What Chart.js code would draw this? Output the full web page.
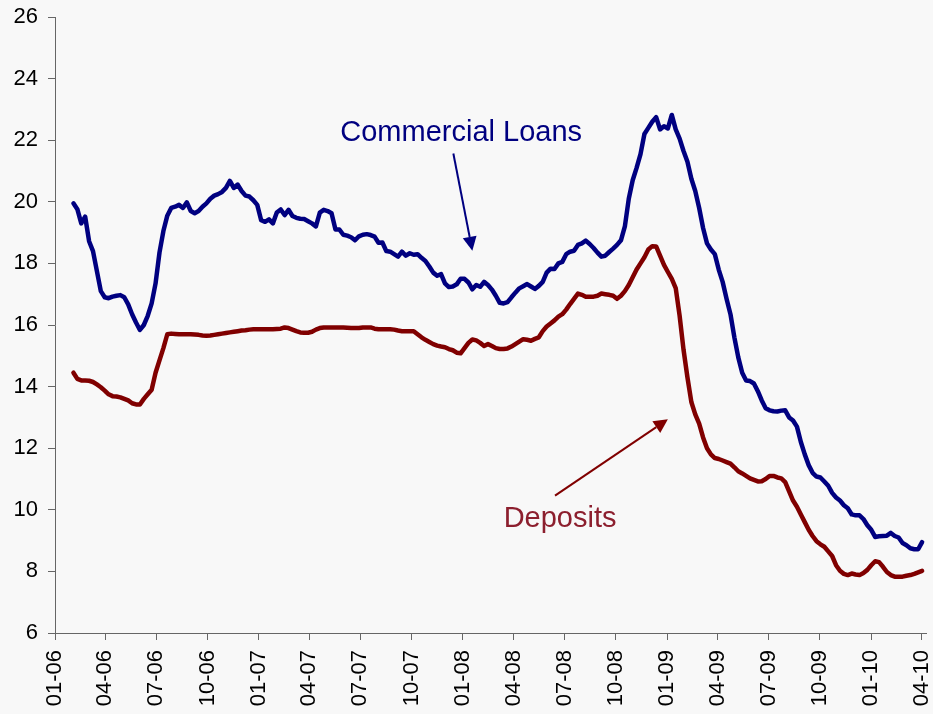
<!DOCTYPE html>
<html>
<head>
<meta charset="utf-8">
<script src="https://cdn.jsdelivr.net/npm/chart.js@4.4.1/dist/chart.umd.min.js"></script>
<style>
  html, body { margin: 0; padding: 0; background: #f8f8f8; }
  #wrap { width: 933px; height: 714px; }
</style>
</head>
<body>
<div id="wrap"><canvas id="c" width="933" height="714"></canvas></div>
<script>
// ---- data (weekly observations, first week below) ----
const firstWeek = '2006-02-03';
const seriesNames = ['Commercial Loans', 'Deposits'];

const loans = [
  19.95, 19.76, 19.3, 19.52, 18.72, 18.4, 17.75, 17.1, 16.9, 16.87,
  16.92, 16.95, 16.97, 16.9, 16.67, 16.35, 16.08, 15.84, 16.0, 16.3,
  16.7, 17.35, 18.35, 19.05, 19.55, 19.8, 19.84, 19.9, 19.8, 19.98,
  19.7, 19.63, 19.7, 19.84, 19.95, 20.1, 20.2, 20.25, 20.32, 20.45,
  20.68, 20.45, 20.56, 20.35, 20.2, 20.17, 20.05, 19.9, 19.4, 19.35,
  19.43, 19.3, 19.65, 19.75, 19.57, 19.74, 19.54, 19.48, 19.45, 19.44,
  19.37, 19.3, 19.2, 19.65, 19.74, 19.7, 19.63, 19.1, 19.1, 18.93,
  18.9, 18.85, 18.75, 18.88, 18.93, 18.95, 18.92, 18.87, 18.67, 18.68,
  18.4, 18.38, 18.3, 18.22, 18.38, 18.25, 18.33, 18.28, 18.3, 18.18,
  18.08, 17.9, 17.7, 17.6, 17.65, 17.35, 17.23, 17.25, 17.32, 17.5,
  17.5, 17.38, 17.16, 17.3, 17.24, 17.4, 17.3, 17.15, 16.95, 16.72,
  16.7, 16.74, 16.9, 17.05, 17.19, 17.26, 17.33, 17.25, 17.17, 17.27,
  17.4, 17.7, 17.83, 17.82, 18.0, 18.05, 18.3, 18.38, 18.41, 18.6,
  18.65, 18.74, 18.63, 18.5, 18.35, 18.22, 18.25, 18.37, 18.48, 18.6,
  18.75, 19.2, 20.1, 20.7, 21.1, 21.55, 22.2, 22.4, 22.6, 22.75,
  22.35, 22.45, 22.38, 22.82, 22.35, 22.05, 21.65, 21.3, 20.75, 20.35,
  19.8, 19.15, 18.65, 18.45, 18.3, 17.8, 17.4, 16.85, 16.35, 15.6,
  14.95, 14.45, 14.2, 14.18, 14.1, 13.85, 13.55, 13.3, 13.23, 13.2,
  13.19, 13.22, 13.23, 13.0, 12.9, 12.7, 12.2, 11.8, 11.45, 11.2,
  11.08, 11.05, 10.92, 10.78, 10.55, 10.4, 10.3, 10.15, 10.05, 9.85,
  9.82, 9.82, 9.7, 9.5, 9.35, 9.12, 9.14, 9.15, 9.16, 9.25,
  9.15, 9.1, 8.92, 8.85, 8.75, 8.72, 8.72, 8.95
];

const deposits = [
  14.45, 14.25, 14.2, 14.2, 14.19, 14.15, 14.07, 13.98, 13.87, 13.75,
  13.69, 13.68, 13.65, 13.6, 13.55, 13.46, 13.42, 13.42, 13.6, 13.75,
  13.9, 14.45, 14.85, 15.25, 15.7, 15.72, 15.71, 15.7, 15.7, 15.7,
  15.7, 15.69, 15.68, 15.66, 15.65, 15.66, 15.68, 15.7, 15.72, 15.74,
  15.76, 15.78, 15.8, 15.82, 15.83, 15.85, 15.86, 15.86, 15.86, 15.86,
  15.86, 15.86, 15.87, 15.88, 15.92, 15.9, 15.85, 15.8, 15.76, 15.75,
  15.75, 15.78, 15.85, 15.9, 15.92, 15.92, 15.92, 15.92, 15.92, 15.92,
  15.91, 15.9, 15.9, 15.9, 15.92, 15.92, 15.92, 15.88, 15.86, 15.86,
  15.86, 15.86, 15.85, 15.82, 15.8, 15.8, 15.8, 15.8, 15.7, 15.6,
  15.52, 15.45, 15.38, 15.33, 15.3, 15.28, 15.22, 15.18, 15.1, 15.08,
  15.25, 15.42, 15.53, 15.5, 15.42, 15.32, 15.38, 15.32, 15.25, 15.22,
  15.22, 15.24, 15.3, 15.38, 15.46, 15.54, 15.52, 15.49, 15.55, 15.6,
  15.8, 15.95, 16.05, 16.15, 16.27, 16.35, 16.5, 16.68, 16.85, 17.02,
  16.98, 16.92, 16.92, 16.92, 16.95, 17.02, 17.0, 16.98, 16.95, 16.85,
  16.95, 17.1, 17.3, 17.55, 17.8, 18.0, 18.2, 18.45, 18.56, 18.55,
  18.25, 17.95, 17.72, 17.5, 17.2, 16.3, 15.2, 14.3, 13.5, 13.1,
  12.8, 12.35, 12.0, 11.8, 11.68, 11.65, 11.6, 11.55, 11.5, 11.38,
  11.25, 11.18, 11.1, 11.02, 10.97, 10.92, 10.93, 11.0, 11.1, 11.1,
  11.05, 11.02, 10.9, 10.6, 10.3, 10.1, 9.85, 9.6, 9.35, 9.15,
  8.98, 8.88, 8.8, 8.65, 8.5, 8.2, 8.02, 7.92, 7.88, 7.93,
  7.9, 7.88, 7.95, 8.05, 8.2, 8.33, 8.3, 8.15, 7.98, 7.88,
  7.83, 7.83, 7.83, 7.86, 7.88, 7.92, 7.97, 8.02
];

const tickLabels = [
  '01-06', '04-06', '07-06', '10-06',
  '01-07', '04-07', '07-07', '10-07',
  '01-08', '04-08', '07-08', '10-08',
  '01-09', '04-09', '07-09', '10-09',
  '01-10', '04-10'
];
const yTicks = { min: 6, max: 26, step: 2 };
const axisEnd = '2010-04-09';

// ---- helpers ----
const DAY = 86400000;
const origin = Date.UTC(2006, 0, 1);
function dayOf(iso) {
  const [y, m, d] = iso.split('-').map(Number);
  return (Date.UTC(y, m - 1, d) - origin) / DAY;
}
function labelDay(lbl) {
  const [mm, yy] = lbl.split('-').map(Number);
  return (Date.UTC(2000 + yy, mm - 1, 1) - origin) / DAY;
}
const start = dayOf(firstWeek);
const toPoints = arr => arr.map((v, i) => ({ x: start + 7 * i, y: v }));
const tickDays = tickLabels.map(labelDay);
const labelByDay = {};
tickLabels.forEach((l, i) => { labelByDay[tickDays[i]] = l; });

// annotation anchors in data space (day, value)
const notes = [
  { text: 'Commercial Loans', color: '#000080', lineColor: '#000080',
    at: [dayOf('2007-12-29'), 22.23],
    from: [dayOf('2007-12-15'), 21.57], to: [dayOf('2008-01-18'), 18.41] },
  { text: 'Deposits', color: '#8c1f2e', lineColor: '#800000',
    at: [dayOf('2008-06-23'), 9.70],
    from: [dayOf('2008-06-14'), 10.46], to: [dayOf('2009-01-02'), 12.94] }
];

const bgPlugin = {
  id: 'bg',
  beforeDraw(chart) {
    const ctx = chart.ctx;
    ctx.save();
    ctx.fillStyle = '#f8f8f8';
    ctx.fillRect(0, 0, chart.width, chart.height);
    ctx.restore();
  }
};

const notePlugin = {
  id: 'notes',
  afterDatasetsDraw(chart) {
    const ctx = chart.ctx, xs = chart.scales.x, ys = chart.scales.y;
    ctx.save();
    notes.forEach(n => {
      ctx.font = '29px "Liberation Sans", Arial, sans-serif';
      ctx.fillStyle = n.color;
      ctx.textAlign = 'center';
      ctx.textBaseline = 'middle';
      ctx.fillText(n.text, xs.getPixelForValue(n.at[0]), ys.getPixelForValue(n.at[1]));
      const x1 = xs.getPixelForValue(n.from[0]), y1 = ys.getPixelForValue(n.from[1]);
      const x2 = xs.getPixelForValue(n.to[0]), y2 = ys.getPixelForValue(n.to[1]);
      const ang = Math.atan2(y2 - y1, x2 - x1);
      const L = 14, W = 7;
      const bx = x2 - L * Math.cos(ang), by = y2 - L * Math.sin(ang);
      ctx.strokeStyle = n.lineColor;
      ctx.lineWidth = 2;
      ctx.beginPath();
      ctx.moveTo(x1, y1);
      ctx.lineTo(bx, by);
      ctx.stroke();
      ctx.fillStyle = n.lineColor;
      ctx.beginPath();
      ctx.moveTo(x2, y2);
      ctx.lineTo(bx + W * Math.sin(ang), by - W * Math.cos(ang));
      ctx.lineTo(bx - W * Math.sin(ang), by + W * Math.cos(ang));
      ctx.closePath();
      ctx.fill();
    });
    ctx.restore();
  }
};

const tickFont = { family: '"Liberation Sans", Arial, sans-serif', size: 22 };
const zeroPad = s => { s.paddingLeft = 0; s.paddingRight = 0; s.paddingTop = 0; s.paddingBottom = 0; };

new Chart(document.getElementById('c'), {
  type: 'line',
  data: {
    datasets: [
      { label: seriesNames[0], data: toPoints(loans), borderColor: '#000080',
        borderWidth: 4.5, pointRadius: 0, tension: 0, fill: false,
        borderJoinStyle: 'round', borderCapStyle: 'round' },
      { label: seriesNames[1], data: toPoints(deposits), borderColor: '#800000',
        borderWidth: 4.5, pointRadius: 0, tension: 0, fill: false,
        borderJoinStyle: 'round', borderCapStyle: 'round' }
    ]
  },
  options: {
    responsive: false,
    animation: false,
    layout: { autoPadding: false, padding: { top: 17, right: 7, left: 0, bottom: 0 } },
    plugins: { legend: { display: false }, tooltip: { enabled: false } },
    scales: {
      x: {
        type: 'linear',
        min: 0,
        max: dayOf(axisEnd),
        afterBuildTicks: s => { s.ticks = tickDays.map(v => ({ value: v })); },
        afterFit: s => { s.height = 81; zeroPad(s); },
        grid: { drawOnChartArea: false, drawTicks: true, tickLength: 7, color: '#666' },
        border: { display: true, color: '#666', width: 1 },
        ticks: {
          autoSkip: false, maxRotation: 90, minRotation: 90, padding: 10,
          color: '#000', font: tickFont,
          callback: v => labelByDay[v] || ''
        }
      },
      y: {
        min: yTicks.min, max: yTicks.max,
        afterFit: s => { s.width = 55; zeroPad(s); },
        grid: { drawOnChartArea: false, drawTicks: true, tickLength: 7, color: '#666' },
        border: { display: true, color: '#666', width: 1 },
        ticks: { stepSize: yTicks.step, padding: 10, color: '#000', font: tickFont }
      }
    }
  },
  plugins: [bgPlugin, notePlugin]
});
</script>
</body>
</html>
